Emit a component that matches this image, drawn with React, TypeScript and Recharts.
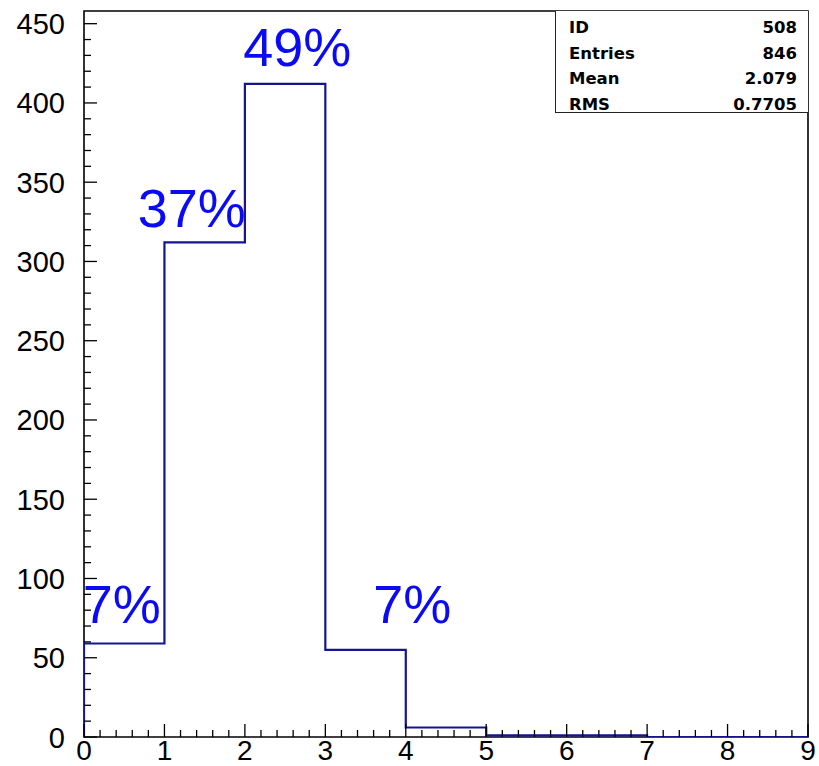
import {
	ComposedChart,
	Line,
	ReferenceArea,
	ReferenceDot,
	XAxis,
	YAxis,
} from "recharts";

// histogram bins (lower edges) and entries per bin
const binEdges = [0, 1, 2, 3, 4, 5, 6, 7, 8, 9];
const binCounts = [59, 312, 412, 55, 6, 1, 1, 0, 0];

// axis labels
const xTickLabels = [0, 1, 2, 3, 4, 5, 6, 7, 8, 9];
const yTickLabels = [0, 50, 100, 150, 200, 250, 300, 350, 400, 450];

// percentage annotations
const pctText = ["7%", "37%", "49%", "7%"];
const pctX = [0.47, 1.34, 2.65, 4.08];
const pctY = [72, 322, 423, 72];

// stats box
const statNames = ["ID", "Entries", "Mean", "RMS"];
const statValues = ["508", "846", "2.079", "0.7705"];

const W = 819;
const H = 766;
const PLOT_LEFT = 84;
const PLOT_RIGHT = 808;
const PLOT_TOP = 11;
const PLOT_BOTTOM = 737;
const Y_MAX = 458;

const LINE_COLOR = "#15158f";
const PCT_COLOR = "#0a0af5";
const LABEL_FONT = "'Liberation Sans', Arial, sans-serif";

// minor ticks: 5 per major x division, 5 per major y division
const xMinor: number[] = [];
for (let i = 0; i < xTickLabels.length - 1; i++) {
	for (let k = 0; k < 5; k++) xMinor.push(xTickLabels[i] + k * 0.2);
}
xMinor.push(xTickLabels[xTickLabels.length - 1]);
const yMinor: number[] = [];
for (let i = 0; i < yTickLabels.length; i++) {
	for (let k = 0; k < 5; k++) {
		const v = yTickLabels[i] + k * 10;
		if (v <= Y_MAX) yMinor.push(v);
	}
}

const histData = [
	{ x: binEdges[0], count: 0 },
	...binCounts.map((c, i) => ({ x: binEdges[i], count: c })),
	{ x: binEdges[binEdges.length - 1], count: binCounts[binCounts.length - 1] },
];

function isMajor(v: number, list: number[]) {
	return list.some((m) => Math.abs(m - v) < 1e-6);
}

function XTick(props: any) {
	const { x, y, payload } = props;
	const v = payload.value;
	const major = isMajor(v, xTickLabels);
	const len = major ? 13 : 7;
	return (
		<g>
			<line x1={x} x2={x} y1={y} y2={y - len} stroke="#000" strokeWidth={1.3} />
			{major && (
				<text
					x={x}
					y={y + 23}
					textAnchor="middle"
					fontSize={28}
					fontFamily={LABEL_FONT}
					fill="#000"
				>
					{Math.round(v)}
				</text>
			)}
		</g>
	);
}

function YTick(props: any) {
	const { x, y, payload } = props;
	const v = payload.value;
	const major = isMajor(v, yTickLabels);
	const len = major ? 13 : 7;
	return (
		<g>
			<line x1={x} x2={x + len} y1={y} y2={y} stroke="#000" strokeWidth={1.3} />
			{major && (
				<text
					x={x - 19}
					y={y + 10.5}
					textAnchor="end"
					fontSize={29}
					fontFamily={LABEL_FONT}
					fill="#000"
				>
					{Math.round(v)}
				</text>
			)}
		</g>
	);
}

function StatsBox() {
	return (
		<div
			style={{
				position: "absolute",
				left: 555,
				top: PLOT_TOP,
				width: PLOT_RIGHT - 555,
				height: 102,
				borderLeft: "1.5px solid #222",
				borderBottom: "1.5px solid #222",
				boxSizing: "border-box",
				padding: "4px 11px 0 13px",
				fontFamily: "'DejaVu Sans', sans-serif",
				fontWeight: 700,
				fontSize: 16.5,
				color: "#000",
				background: "#fff",
			}}
		>
			{statNames.map((n, i) => (
				<div
					key={n}
					style={{
						display: "flex",
						justifyContent: "space-between",
						height: 25.7,
						lineHeight: "25.7px",
					}}
				>
					<span>{n}</span>
					<span>{statValues[i]}</span>
				</div>
			))}
		</div>
	);
}

export default function App() {
	return (
		<div style={{ position: "absolute", left: 0, top: 0, width: W, height: H, background: "#fff" }}>
			<ComposedChart
				width={W}
				height={H}
				data={histData}
				margin={{ top: PLOT_TOP, right: W - PLOT_RIGHT, left: 0, bottom: 0 }}
			>
				<XAxis
					dataKey="x"
					type="number"
					domain={[0, 9]}
					ticks={xMinor}
					interval={0}
					tick={<XTick />}
					tickLine={false}
					tickSize={0}
					tickMargin={0}
					axisLine={false}
					height={H - PLOT_BOTTOM}
					allowDataOverflow
				/>
				<YAxis
					type="number"
					domain={[0, Y_MAX]}
					ticks={yMinor}
					interval={0}
					tick={<YTick />}
					tickLine={false}
					tickSize={0}
					tickMargin={0}
					axisLine={false}
					width={PLOT_LEFT}
					allowDataOverflow
				/>
				<ReferenceArea
					x1={0}
					x2={9}
					y1={0}
					y2={Y_MAX}
					fill="none"
					stroke="#000"
					strokeWidth={1.6}
					ifOverflow="visible"
				/>
				<Line
					type="stepAfter"
					dataKey="count"
					stroke={LINE_COLOR}
					strokeWidth={2.2}
					dot={false}
					isAnimationActive={false}
				/>
				{pctText.map((t, i) => (
					<ReferenceDot
						key={`pct-${i}`}
						x={pctX[i]}
						y={pctY[i]}
						r={0}
						ifOverflow="visible"
						shape={(p: any) => (
							<text
								x={p.cx}
								y={p.cy}
								textAnchor="middle"
								fontSize={54}
								fontFamily={LABEL_FONT}
								fill={PCT_COLOR}
							>
								{t}
							</text>
						)}
					/>
				))}
			</ComposedChart>
			<StatsBox />
		</div>
	);
}
